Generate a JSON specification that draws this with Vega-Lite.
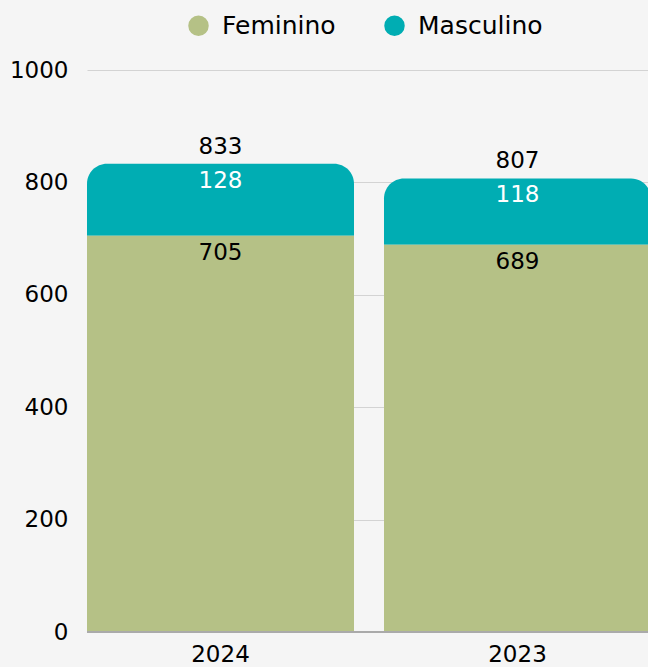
{
  "$schema": "https://vega.github.io/schema/vega-lite/v6.json",
  "autosize": "none",
  "width": 564,
  "height": 562,
  "padding": {"left": 87, "top": 70, "right": 0, "bottom": 35},
  "background": "#f5f5f5",
  "config": {
    "view": {"stroke": null},
    "font": "DejaVu Sans",
    "axis": {"labelFont": "DejaVu Sans", "labelColor": "#000000", "labelFontSize": 23},
    "legend": {"labelFont": "DejaVu Sans", "labelFontSize": 25, "labelColor": "#000000"}
  },
  "data": {
    "values": [
      {"year": "2024", "gender": "Feminino", "value": 705, "order": 1},
      {"year": "2024", "gender": "Masculino", "value": 128, "order": 2},
      {"year": "2023", "gender": "Feminino", "value": 689, "order": 1},
      {"year": "2023", "gender": "Masculino", "value": 118, "order": 2}
    ]
  },
  "transform": [
    {"stack": "value", "groupby": ["year"], "sort": [{"field": "order"}], "as": ["v0", "v1"]}
  ],
  "encoding": {
    "x": {
      "field": "year", "type": "nominal", "sort": ["2024", "2023"],
      "scale": {"paddingInner": 0.101, "paddingOuter": 0},
      "axis": {"title": null, "labelAngle": 0, "domain": false, "ticks": false, "labelPadding": 11, "grid": false}
    }
  },
  "layer": [
    {
      "mark": {"type": "bar", "cornerRadiusTopLeft": 20, "cornerRadiusTopRight": 20},
      "transform": [{"filter": "datum.gender === 'Masculino'"}],
      "encoding": {
        "y": {
          "field": "v0", "type": "quantitative",
          "scale": {"domain": [0, 1000]},
          "axis": {"title": null, "values": [0, 200, 400, 600, 800, 1000], "format": "d", "grid": true, "domain": false, "ticks": false, "labelPadding": 19, "gridColor": "#d3d3d3", "gridWidth": 1}
        },
        "y2": {"field": "v1"},
        "color": {
          "field": "gender", "type": "nominal",
          "scale": {"domain": ["Feminino", "Masculino"], "range": ["#b5c186", "#00adb3"]},
          "legend": {
            "title": null, "orient": "none", "direction": "horizontal",
            "legendX": 99, "legendY": -57, "symbolType": "circle", "symbolSize": 420,
            "symbolOpacity": 1, "symbolStrokeWidth": 0, "columnPadding": 46, "labelOffset": 11
          }
        }
      }
    },
    {
      "mark": {"type": "bar"},
      "transform": [{"filter": "datum.gender === 'Feminino'"}],
      "encoding": {
        "y": {"field": "v0", "type": "quantitative"},
        "y2": {"field": "v1"},
        "color": {"field": "gender", "type": "nominal"}
      }
    },
    {
      "mark": {"type": "rule", "color": "#aaaaaa", "strokeWidth": 2},
      "encoding": {"y": {"datum": 0}, "x": null}
    },
    {
      "mark": {"type": "text", "baseline": "top", "dy": 6, "fontSize": 23},
      "encoding": {
        "y": {"field": "v1", "type": "quantitative"},
        "text": {"field": "value", "type": "quantitative"},
        "color": {
          "condition": {"test": "datum.gender === 'Masculino'", "value": "#ffffff"},
          "value": "#000000"
        }
      }
    },
    {
      "mark": {"type": "text", "baseline": "bottom", "dy": -5, "fontSize": 23, "color": "#000000"},
      "encoding": {
        "y": {"aggregate": "sum", "field": "value", "type": "quantitative"},
        "text": {"aggregate": "sum", "field": "value", "type": "quantitative"}
      }
    }
  ]
}
